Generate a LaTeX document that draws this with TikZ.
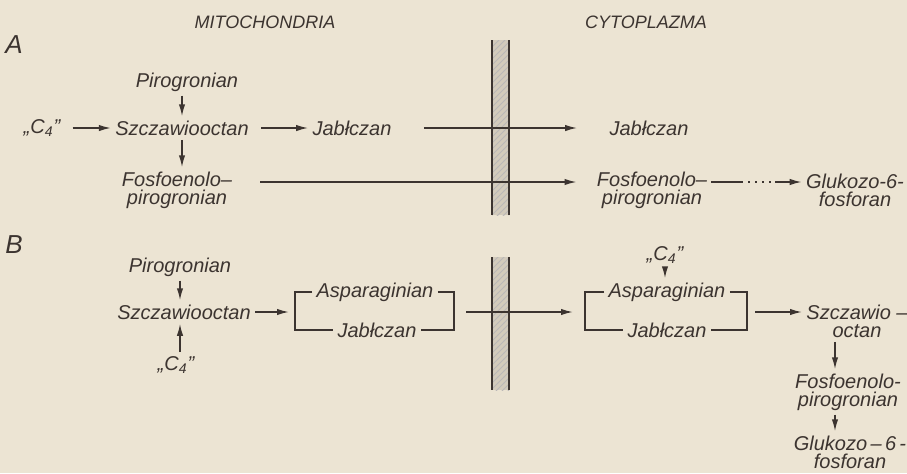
\documentclass[tikz,border=0pt]{standalone}
\usepackage{fontspec}
\setmainfont{Liberation Sans}
\usetikzlibrary{arrows.meta, patterns}
\definecolor{paper}{RGB}{236,228,211}
\definecolor{ink}{RGB}{60,52,48}

\begin{document}
\begin{tikzpicture}[
    x=0.5pt, y=-0.5pt,
    >={Latex[length=6pt,width=3.2pt]},
    color=ink,
    font=\itshape\fontsize{10}{9}\selectfont,
    % Styles
    chem/.style={inner sep=2pt, align=center},
    head/.style={font=\itshape\fontsize{9}{9}\selectfont},
    panel/.style={font=\itshape\fontsize{13}{13}\selectfont},
    flow/.style={->, line width=0.75pt},
    cross/.style={flow, shorten <=14pt, shorten >=14pt},
    brace/.style={line width=0.75pt},
    wall/.style={line width=1.2pt},
    dashdot/.style={dash pattern=on 16pt off 2.5pt on 1pt off 2.5pt on 1pt off 2.5pt on 1pt off 2.5pt on 1pt off 2pt on 40pt}
]

% 0. Paper and membranes
\useasboundingbox (0,0) rectangle (907,473);
\fill[paper] (0,0) rectangle (907,473);
\foreach \ytop/\ybot in {40/215, 257/390} {
    \fill[ink!14!paper] (492,\ytop) rectangle (509,\ybot);
    \fill[pattern=north east lines, pattern color=ink!35] (492,\ytop) rectangle (509,\ybot);
    \draw[wall] (492,\ytop) -- (492,\ybot) (509,\ytop) -- (509,\ybot);
}

% 1. Headings
\node[head] (mito) at (265,22) {MITOCHONDRIA};
\node[head] (cyto) at (646,22) {CYTOPLAZMA};
\node[panel] (labA) at (14,45) {A};
\node[panel] (labB) at (14,245) {B};

% 2. Scheme A
\node[chem] (pyrA) at (187,82) {Pirogronian};
\node[chem] (oaaA) at (182,128) {Szczawiooctan};
\node[chem] (c4A) at (42,128) {„C\textsubscript{4}”};
\node[chem] (malA) at (352,128) {Jabłczan};
\node[chem] (fepA) at (177,190) {Fosfoenolo–\\pirogronian};
\node[chem] (malC) at (649,128) {Jabłczan};
\node[chem] (fepC) at (652,190) {Fosfoenolo–\\pirogronian};
\node[chem] (g6pA) at (855,190) {Glukozo-6-\\fosforan};

\draw[flow, shorten <=4pt] (c4A) -- (oaaA);
\draw[flow] (pyrA.south -| oaaA) -- (oaaA);
\draw[flow, shorten <=4pt] (oaaA) -- (malA);
\draw[flow] (oaaA) -- (oaaA |- fepA.north);
\draw[cross] (malA) -- (malC);
\draw[cross, shorten <=12pt, shorten >=8pt] ([yshift=4pt]fepA.east) -- ([yshift=4pt]fepC.west);
\draw[flow, dashdot] ([yshift=4pt]fepC.east) -- ([yshift=4pt]g6pA.west);

% 3. Scheme B
\node[chem] (pyrB) at (180,267) {Pirogronian};
\node[chem] (oaaB) at (184,312) {Szczawiooctan};
\node[chem] (c4B) at (176,365) {„C\textsubscript{4}”};
\node[chem] (asp1) at (375,292) {Asparaginian};
\node[chem] (mal1) at (377,330) {Jabłczan};
\coordinate (b1l) at (295,312);
\coordinate (b1r) at (454,312);

\node[chem] (c4C) at (665,255) {„C\textsubscript{4}”};
\node[chem] (asp2) at (667,292) {Asparaginian};
\node[chem] (mal2) at (667,330) {Jabłczan};
\coordinate (b2l) at (585,312);
\coordinate (b2r) at (747,312);

\node[chem] (oaaC) at (857,321) {Szczawio –\\octan};
\node[chem] (fepB) at (848,392) {Fosfoenolo-\\pirogronian};
\node[chem] (g6pB) at (850,452) {Glukozo\,–\,6\,-\\fosforan};
\coordinate (colB) at (835,0);

\draw[flow] (pyrB) -- (pyrB |- oaaB.north);
\draw[flow] (c4B.north -| pyrB) -- (oaaB.south -| pyrB);
\draw[flow, shorten >=3pt] (oaaB) -- (b1l);
\draw[brace] (asp1.west) -- (asp1.west -| b1l) -- (mal1.west -| b1l) -- (mal1.west);
\draw[brace] (asp1.east) -- (asp1.east -| b1r) -- (mal1.east -| b1r) -- (mal1.east);
\draw[flow, shorten <=6pt, shorten >=6pt] (b1r) -- (b2l);
\draw[flow] (c4C) -- (c4C |- asp2.north);
\draw[brace] (asp2.west) -- (asp2.west -| b2l) -- (mal2.west -| b2l) -- (mal2.west);
\draw[brace] (asp2.east) -- (asp2.east -| b2r) -- (mal2.east -| b2r) -- (mal2.east);
\draw[flow, shorten <=4pt] (b2r) -- ([yshift=4.5pt]oaaC.west);
\draw[flow] (oaaC.south -| colB) -- (fepB.north -| colB);
\draw[flow] (fepB.south -| colB) -- (g6pB.north -| colB);

\end{tikzpicture}
\end{document}
